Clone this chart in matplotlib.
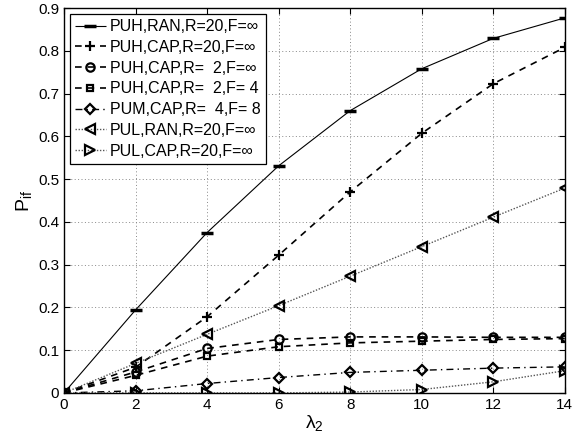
import numpy as np
import matplotlib
matplotlib.use("Agg")
import matplotlib.pyplot as plt
from matplotlib.ticker import FixedLocator, FuncFormatter

plt.rcParams['font.family'] = ['Liberation Sans', 'DejaVu Sans']
plt.rcParams['mathtext.fontset'] = 'custom'
plt.rcParams['mathtext.rm'] = 'Liberation Sans'
plt.rcParams['mathtext.it'] = 'Liberation Sans:italic'
plt.rcParams['mathtext.sf'] = 'Liberation Sans'

lam = [0, 2, 4, 6, 8, 10, 12, 14]

puh_ran_20 = [0, 0.194, 0.375, 0.531, 0.660, 0.758, 0.829, 0.877]
puh_cap_20 = [0, 0.060, 0.178, 0.322, 0.470, 0.607, 0.723, 0.808]
puh_cap_2 = [0, 0.049, 0.104, 0.125, 0.131, 0.131, 0.130, 0.130]
puh_cap_2_f4 = [0, 0.041, 0.086, 0.108, 0.117, 0.121, 0.125, 0.127]
pum_cap_4_f8 = [0, 0.005, 0.022, 0.036, 0.048, 0.053, 0.058, 0.061]
pul_ran_20 = [0, 0.069, 0.137, 0.204, 0.273, 0.342, 0.411, 0.479]
pul_cap_20 = [0, 0.0, 0.0, 0.0, 0.002, 0.008, 0.026, 0.052]

labels = [
    "PUH,RAN,R=20,F=\u221e",
    "PUH,CAP,R=20,F=\u221e",
    "PUH,CAP,R=  2,F=\u221e",
    "PUH,CAP,R=  2,F= 4",
    "PUM,CAP,R=  4,F= 8",
    "PUL,RAN,R=20,F=\u221e",
    "PUL,CAP,R=20,F=\u221e",
]

series = [puh_ran_20, puh_cap_20, puh_cap_2, puh_cap_2_f4,
          pum_cap_4_f8, pul_ran_20, pul_cap_20]
# (linestyle, marker, linewidth, colour, marker edge width)
styles = [((0, ()), '_', 0.8, 'black', 2.5),
          ((0, (4, 3.5)), '+', 1.2, 'black', 1.6),
          ((0, (4, 3.5)), 'o', 1.2, 'black', 1.6),
          ((0, (4, 3.5)), 's', 1.2, 'black', 1.6),
          ((0, (5, 3, 1, 3)), 'D', 1.0, 'black', 1.6),
          ((0, (1, 1.2)), '<', 1.0, '#555555', 1.6),
          ((0, (1, 1.2)), '>', 1.0, '#555555', 1.6)]
msizes = [9, 7, 6, 5, 5.5, 7.5, 7.5]

fig = plt.figure(figsize=(5.74, 4.46), dpi=100)
ax = fig.add_axes([0.1115, 0.119, 0.8725, 0.863])

for y, lab, (ls, mk, lw, col, mew), ms in zip(series, labels, styles, msizes):
    ax.plot(lam, y, linestyle=ls, marker=mk, color=col, lw=lw,
            markersize=ms, markerfacecolor='none', markeredgecolor='black',
            markeredgewidth=mew, label=lab)

ax.set_xlim(0, 14)
ax.set_ylim(0, 0.9)
ax.xaxis.set_major_locator(FixedLocator(np.arange(0, 15, 2)))
ax.yaxis.set_major_locator(FixedLocator(np.round(np.arange(0, 0.91, 0.1), 1)))
ax.yaxis.set_major_formatter(FuncFormatter(lambda v, p: "0" if v == 0 else "%g" % v))
ax.tick_params(direction='in', top=True, right=True, labelsize=11, length=4)
ax.grid(True, linestyle=(0, (1, 2.5)), color='#888888', lw=0.7)
for s in ax.spines.values():
    s.set_linewidth(1.0)

ax.set_xlabel("\u03bb$_2$", fontsize=14, labelpad=1)
ax.set_ylabel(r"$\mathrm{P_{if}}$", fontsize=14, labelpad=3)

leg = ax.legend(loc='upper left', fontsize=11.5, handlelength=1.9, handletextpad=0.25,
                labelspacing=0.36, borderpad=0.35, borderaxespad=0.35, fancybox=False,
                framealpha=1, edgecolor='black')
leg.get_frame().set_linewidth(0.9)

fig.savefig("out.png", dpi=100)
